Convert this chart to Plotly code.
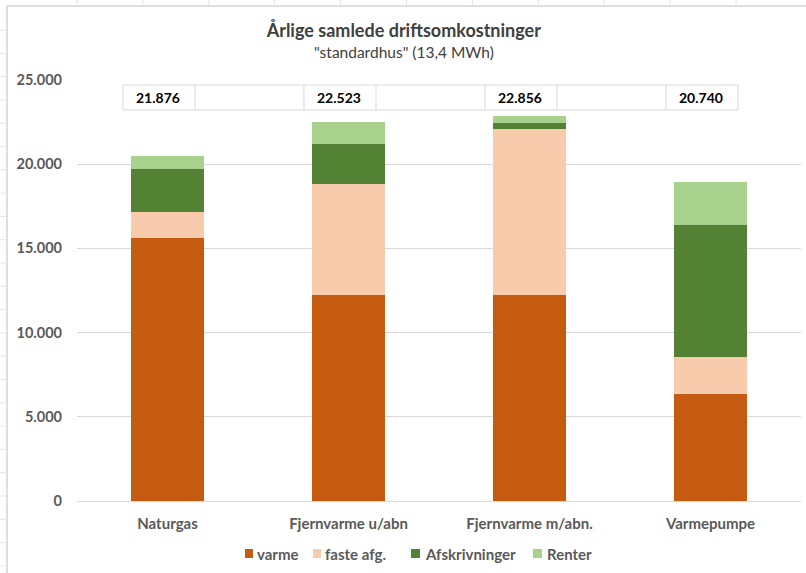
import plotly.graph_objects as go

categories = ["Naturgas", "Fjernvarme u/abn", "Fjernvarme m/abn.", "Varmepumpe"]
varme = [15600, 12230, 12230, 6350]
faste_afg = [1550, 6590, 9860, 2200]
afskrivninger = [2550, 2380, 360, 7840]
renter = [780, 1320, 410, 2550]
total_labels = ["21.876", "22.523", "22.856", "20.740"]
y_ticks = [0, 5000, 10000, 15000, 20000, 25000]
y_tick_labels = ["0", "5.000", "10.000", "15.000", "20.000", "25.000"]
series_names = ["varme", "faste afg.", "Afskrivninger", "Renter"]
series_colors = ["#C55A11", "#F8CBAD", "#548235", "#A9D18E"]
series_values = [varme, faste_afg, afskrivninger, renter]

FONT = "Lato"
L, T, W, H = 77, 80, 724, 421   # plot area in pixels


def px(xp):
    return (xp - L) / W


def py(yp):
    return (T + H - yp) / H


fig = go.Figure()
for name, vals, col in zip(series_names, series_values, series_colors):
    fig.add_trace(go.Bar(x=categories, y=vals, name=name, marker_color=col,
                         marker_line_width=0, showlegend=False))

# table row with totals
row_top, row_bot, row_mid = 24700, 23220, 23950
grid_col = "#D9D9D9"
n = len(categories)
shapes = []
shapes.append(dict(type="line", xref="x", yref="y", x0=-0.246, x1=n - 1 + 0.152,
                   y0=row_top, y1=row_top, line=dict(color=grid_col, width=1)))
shapes.append(dict(type="line", xref="x", yref="y", x0=-0.246, x1=n - 1 + 0.152,
                   y0=row_bot, y1=row_bot, line=dict(color=grid_col, width=1)))
for i in range(n):
    for xv in (i - 0.246, i + 0.152):
        shapes.append(dict(type="line", xref="x", yref="y", x0=xv, x1=xv,
                           y0=row_bot, y1=row_top, line=dict(color=grid_col, width=1)))

annotations = []
for i, t in enumerate(total_labels):
    annotations.append(dict(x=i - 0.05, y=row_mid, xref="x", yref="y", text="<b>%s</b>" % t,
                            showarrow=False, font=dict(family=FONT, size=14, color="#000000"),
                            xanchor="center", yanchor="middle"))

# manual legend (Excel style small squares)
leg_sq = [(245, 253), (313, 321), (411, 420), (533, 542)]
leg_tx = [255, 323, 423, 545]
for (a, b), tx, name, col in zip(leg_sq, leg_tx, series_names, series_colors):
    shapes.append(dict(type="rect", xref="paper", yref="paper", x0=px(a), x1=px(b),
                       y0=py(558), y1=py(549), fillcolor=col, line=dict(width=0)))
    annotations.append(dict(text="<b>%s</b>" % name, xref="paper", yref="paper",
                            x=px(tx), y=py(553.5), xanchor="left", yanchor="middle",
                            showarrow=False, font=dict(family=FONT, size=15, color="#595959")))

# chart frame (left and top border) and faint sheet grid outside it
frame_col = "#BFBFBF"
shapes.append(dict(type="line", xref="paper", yref="paper", x0=px(7), x1=px(7),
                   y0=py(573), y1=py(6), line=dict(color=frame_col, width=1)))
shapes.append(dict(type="line", xref="paper", yref="paper", x0=px(7), x1=px(806),
                   y0=py(6), y1=py(6), line=dict(color=frame_col, width=1)))
sheet_col = "#E6E6E6"
for k in range(11):
    xp = 77 + 65.9 * k
    shapes.append(dict(type="line", xref="paper", yref="paper", x0=px(xp), x1=px(xp),
                       y0=py(0), y1=py(5), line=dict(color=sheet_col, width=1)))
for k in range(25):
    yp = 30 + 23.3 * k
    if yp > 573:
        break
    shapes.append(dict(type="line", xref="paper", yref="paper", x0=px(0), x1=px(6),
                       y0=py(yp), y1=py(yp), line=dict(color=sheet_col, width=1)))

annotations.append(dict(text='"standardhus" (13,4 MWh)', xref="paper", yref="paper",
                        x=px(404), y=py(52), xanchor="center", yanchor="middle",
                        showarrow=False, font=dict(family=FONT, size=15.5, color="#404040")))

fig.update_layout(
    width=806, height=573,
    margin=dict(l=L, r=806 - L - W, t=T, b=573 - T - H),
    paper_bgcolor="white", plot_bgcolor="white",
    barmode="stack", bargap=0.6,
    title=dict(text="<b>Årlige samlede driftsomkostninger</b>",
               xref="container", x=0.501, xanchor="center",
               yref="container", y=1 - 31/573, yanchor="middle",
               font=dict(family=FONT, size=18, color="#404040")),
    annotations=annotations,
    shapes=shapes,
    showlegend=False,
    font=dict(family=FONT, color="#595959"),
)
fig.update_xaxes(showgrid=False, showline=False, ticks="",
                 tickvals=categories, ticktext=["<b>%s</b>" % c for c in categories],
                 tickfont=dict(family=FONT, size=15, color="#595959"),
                 ticklabelstandoff=12)
fig.update_yaxes(range=[0, 25000], tickvals=y_ticks,
                 ticktext=["<b>%s</b>" % t for t in y_tick_labels],
                 showgrid=True, gridcolor=grid_col, gridwidth=1, zeroline=True,
                 zerolinecolor=grid_col, zerolinewidth=1, showline=False, ticks="",
                 tickfont=dict(family=FONT, size=14.5, color="#595959"),
                 ticklabelstandoff=14)

fig.write_html("out.html", config={"displayModeBar": False},
               post_script="document.body.style.margin='0';document.body.style.padding='0';")
